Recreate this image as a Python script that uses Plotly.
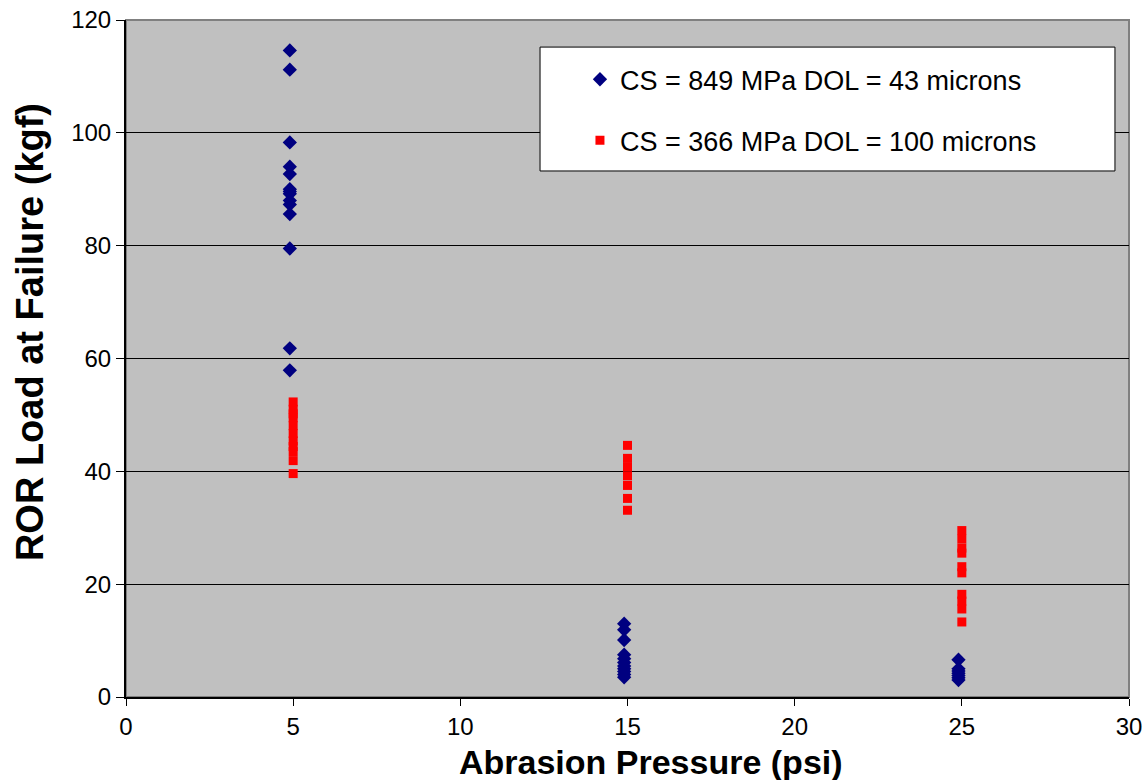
import plotly.graph_objects as go

# Series 1: CS = 849 MPa, DOL = 43 microns
blue_x = [4.9]*14 + [14.9]*11 + [24.9]*7
blue_y = [114.6, 111.2, 98.3, 94.0, 92.7, 90.0, 89.2, 88.0, 87.3, 85.6, 79.5, 61.8, 57.9, 89.6,
          13.0, 11.9, 10.1, 7.5, 6.8, 6.1, 5.5, 5.0, 4.5, 4.0, 3.5,
          6.6, 5.0, 4.6, 4.2, 3.8, 3.4, 3.0]

# Series 2: CS = 366 MPa, DOL = 100 microns
red_x = [5]*11 + [15]*7 + [25]*10
red_y = [52.3, 51.0, 49.5, 48.1, 46.7, 45.4, 43.5, 41.9, 39.6, 44.4, 50.2,
         44.6, 42.3, 40.8, 39.2, 37.5, 35.2, 33.1,
         29.5, 28.0, 26.4, 25.5, 23.1, 22.0, 18.2, 17.0, 15.6, 13.3]

name_blue = "CS = 849 MPa DOL = 43 microns"
name_red = "CS = 366 MPa DOL = 100 microns"

x_ticks = [0, 5, 10, 15, 20, 25, 30]
y_ticks = [0, 20, 40, 60, 80, 100, 120]

x_title = "Abrasion Pressure (psi)"
y_title = "ROR Load at Failure (kgf)"

FONT = "Liberation Sans, Arial, sans-serif"

fig = go.Figure()
fig.add_trace(go.Scatter(x=blue_x, y=blue_y, mode="markers", name=name_blue,
                         legendgroup="a",
                         marker=dict(symbol="diamond", size=11, color="#000080",
                                     line=dict(width=0))))
fig.add_trace(go.Scatter(x=red_x, y=red_y, mode="markers", name=name_red,
                         legendgroup="b",
                         marker=dict(symbol="square", size=9, color="#FF0000",
                                     line=dict(width=0))))

# plot-area border (grey top/right)
fig.add_shape(type="rect", xref="paper", yref="paper", x0=0, x1=1, y0=0, y1=1,
              line=dict(color="#808080", width=2), layer="below")
# legend box
fig.add_shape(type="rect", xref="paper", yref="paper", x0=0.4128, x1=0.986, y0=0.777, y1=0.960,
              line=dict(color="black", width=1), fillcolor="white", layer="above")

fig.add_annotation(text="<b>" + x_title + "</b>", xref="paper", yref="paper",
                   x=0.523, y=-0.096, xanchor="center", yanchor="middle",
                   showarrow=False, font=dict(family=FONT, size=34, color="black"))
fig.add_annotation(text="<b>" + y_title + "</b>", xref="paper", yref="paper",
                   x=-0.0957, y=0.539, xanchor="center", yanchor="middle", textangle=-90,
                   showarrow=False, font=dict(family=FONT, size=38, color="black"))

fig.update_layout(
    width=1148, height=780,
    margin=dict(l=126, r=19, t=20, b=83),
    paper_bgcolor="white",
    plot_bgcolor="#C0C0C0",
    font=dict(family=FONT, size=24, color="black"),
    showlegend=True,
    legend=dict(
        x=0.4526, y=0.948, xanchor="left", yanchor="top",
        bgcolor="rgba(0,0,0,0)", borderwidth=0,
        font=dict(family=FONT, size=27, color="black"),
        traceorder="grouped", tracegroupgap=23,
        itemsizing="trace",
    ),
    xaxis=dict(
        range=[0, 30], tickvals=x_ticks, ticktext=[str(v) for v in x_ticks],
        showgrid=False, zeroline=False, automargin=False,
        showline=True, linecolor="black", linewidth=2,
        ticks="outside", ticklen=7, tickcolor="black", tickwidth=1,
        tickfont=dict(size=24), ticklabeloverflow="allow",
    ),
    yaxis=dict(
        range=[0, 120], tickvals=y_ticks, ticktext=[str(v) for v in y_ticks],
        showgrid=True, gridcolor="black", gridwidth=1, zeroline=False, automargin=False,
        showline=True, linecolor="black", linewidth=2,
        ticks="outside", ticklen=8, tickcolor="black", tickwidth=1,
        tickfont=dict(size=24), ticklabeloverflow="allow",
    ),
)

fig.write_html("out.html",
               config={"displayModeBar": False},
               post_script="document.body.style.margin='0';document.body.style.overflow='hidden';")
